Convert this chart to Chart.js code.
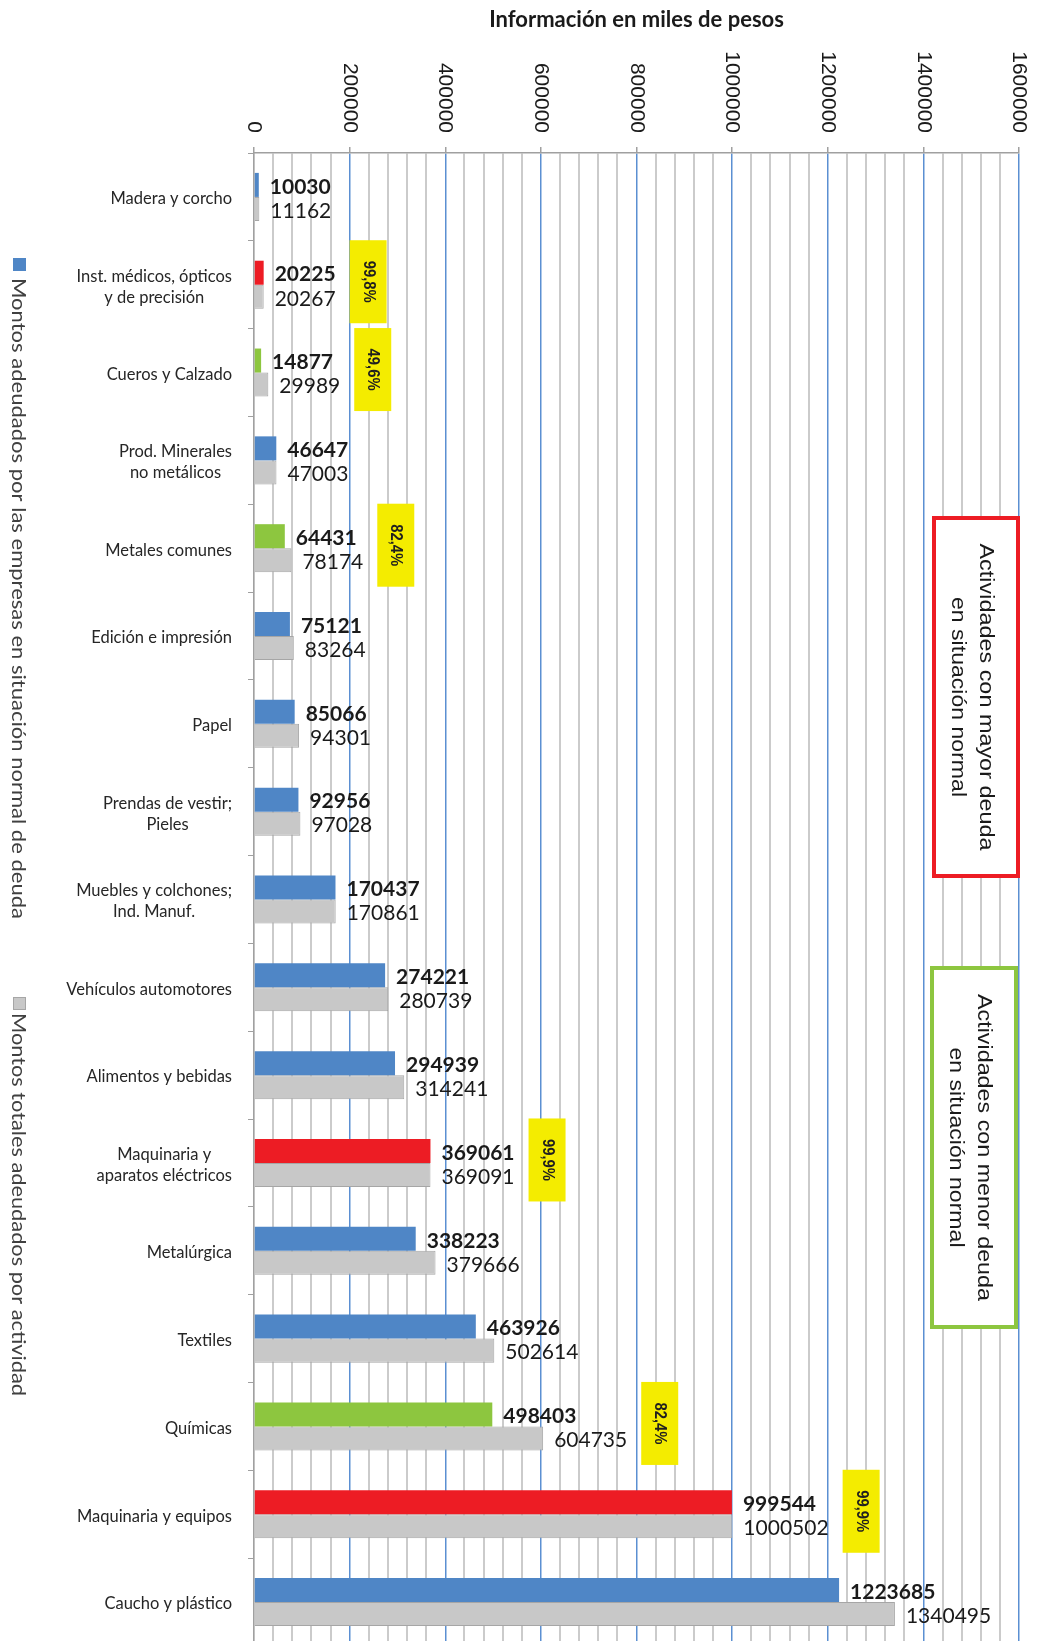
<!DOCTYPE html>
<html>
<head>
<meta charset="utf-8">
<script src="https://cdn.jsdelivr.net/npm/chart.js@4.4.0/dist/chart.umd.min.js"></script>
<style>
  html, body { margin: 0; padding: 0; overflow: hidden; background: #fff; }
</style>
</head>
<body>
<canvas id="myChart" width="1037" height="1660"></canvas>
<script>
const categories = [
  'Madera y corcho',
  ['Inst. médicos, ópticos', 'y de precisión'],
  'Cueros y Calzado',
  ['Prod. Minerales', 'no metálicos'],
  'Metales comunes',
  'Edición e impresión',
  'Papel',
  ['Prendas de vestir;', 'Pieles'],
  ['Muebles y colchones;', 'Ind. Manuf.'],
  'Vehículos automotores',
  'Alimentos y bebidas',
  ['Maquinaria y', 'aparatos eléctricos'],
  'Metalúrgica',
  'Textiles',
  'Químicas',
  'Maquinaria y equipos',
  'Caucho y plástico'
];
const normalDebt = [10030, 20225, 14877, 46647, 64431, 75121, 85066, 92956, 170437,
  274221, 294939, 369061, 338223, 463926, 498403, 999544, 1223685];
const totalDebt = [11162, 20267, 29989, 47003, 78174, 83264, 94301, 97028, 170861,
  280739, 314241, 369091, 379666, 502614, 604735, 1000502, 1340495];
// '' = normal, 'mayor' = mayor deuda en situación normal, 'menor' = menor deuda
const debtGroup = ['', 'mayor', 'menor', '', 'menor', '', '', '', '', '', '', 'mayor', '', '', 'menor', 'mayor', ''];
const shareLabels = ['', '99,8%', '49,6%', '', '82,4%', '', '', '', '', '', '', '99,9%', '', '', '82,4%', '99,9%', ''];
const xTickLabels = [0, 200000, 400000, 600000, 800000, 1000000, 1200000, 1400000, 1600000];
const seriesNames = [
  'Montos adeudados por las empresas en situación normal de deuda',
  'Montos totales adeudados por actividad'
];
const axisTitle = 'Información en miles de pesos';
const boxTexts = {
  mayor: ['Actividades con mayor deuda', 'en situación normal'],
  menor: ['Actividades con menor deuda', 'en situación normal']
};

const BLUE = '#4f86c6', RED = '#ed1c24', GREEN = '#8dc63f', GRAY = '#c8c8c8';
const groupColor = { '': BLUE, mayor: RED, menor: GREEN };

function rotText(ctx, text, x, y, font, color, align, targetW) {
  ctx.save();
  ctx.translate(x, y);
  ctx.rotate(Math.PI / 2);
  ctx.font = font;
  ctx.fillStyle = color;
  ctx.textAlign = align;
  ctx.textBaseline = 'middle';
  if (targetW) {
    const w = ctx.measureText(text).width;
    ctx.scale(targetW / w, 1);
  }
  ctx.fillText(text, 0, 0);
  ctx.restore();
}

const labelFont = '21px Lato';
const labelFontBold = 'bold 21px Lato';

const decorations = {
  id: 'decorations',
  afterDatasetsDraw(chart) {
    const ctx = chart.ctx;
    const xs = chart.scales.x, ys = chart.scales.y;

    // title
    ctx.save();
    ctx.font = 'bold 22px Lato';
    ctx.fillStyle = '#1a1a1a';
    ctx.textAlign = 'center';
    ctx.textBaseline = 'middle';
    ctx.fillText(axisTitle, (xs.left + xs.right) / 2, 20);
    ctx.restore();

    // x tick labels, read top to bottom
    xTickLabels.forEach(v => {
      rotText(ctx, String(v), xs.getPixelForValue(v), 133, '21px "Liberation Sans"', '#1a1a1a', 'right');
    });

    // category labels
    ctx.save();
    ctx.font = '16.5px Lato';
    ctx.fillStyle = '#262626';
    ctx.textBaseline = 'middle';
    categories.forEach((c, i) => {
      const y = ys.getPixelForValue(i) + 2;
      if (Array.isArray(c)) {
        const maxW = Math.max(...c.map(t => ctx.measureText(t).width));
        ctx.textAlign = 'center';
        c.forEach((t, k) => ctx.fillText(t, 232 - maxW / 2, y + (k - (c.length - 1) / 2) * 21));
      } else {
        ctx.textAlign = 'right';
        ctx.fillText(c, 232, y);
      }
    });
    ctx.restore();

    // value labels
    ctx.save();
    ctx.fillStyle = '#1a1a1a';
    ctx.textAlign = 'left';
    ctx.textBaseline = 'middle';
    const m0 = chart.getDatasetMeta(0), m1 = chart.getDatasetMeta(1);
    m0.data.forEach((bar, i) => {
      ctx.font = labelFontBold;
      ctx.fillText(String(normalDebt[i]), bar.x + 11, bar.y + 2);
    });
    m1.data.forEach((bar, i) => {
      ctx.font = labelFont;
      ctx.fillText(String(totalDebt[i]), bar.x + 11, bar.y + 2);
    });
    ctx.restore();

    // yellow share boxes
    shareLabels.forEach((p, i) => {
      if (!p) return;
      ctx.save();
      ctx.font = labelFont;
      const bar = m1.data[i];
      const bx = bar.x + 11 + ctx.measureText(String(totalDebt[i])).width + 14;
      const cy = ys.getPixelForValue(i) - 3;
      ctx.fillStyle = '#f4ec00';
      ctx.fillRect(bx, cy - 41.5, 37, 83);
      ctx.restore();
      rotText(ctx, p, bx + 18.5, cy, 'bold 16px "Liberation Sans"', '#1f1f1f', 'center', 42);
    });
  },
  afterDraw(chart) {
    const ctx = chart.ctx;
    // legend (rotated, on the left edge)
    ctx.save();
    ctx.fillStyle = BLUE;
    ctx.fillRect(13, 258, 13, 13);
    ctx.fillStyle = GRAY;
    ctx.fillRect(13, 997, 13, 13);
    ctx.strokeStyle = '#a6a6a6';
    ctx.lineWidth = 1;
    ctx.strokeRect(13.5, 997.5, 12, 12);
    ctx.restore();
    rotText(ctx, seriesNames[0], 18, 278, '20px Lato', '#404040', 'left', 641);
    rotText(ctx, seriesNames[1], 18, 1013, '20px Lato', '#404040', 'left', 383);

    // note boxes
    const boxes = [
      { key: 'mayor', color: RED, x: 934, y: 518, w: 84, h: 358 },
      { key: 'menor', color: GREEN, x: 932, y: 968, w: 84, h: 359 }
    ];
    boxes.forEach(b => {
      ctx.save();
      ctx.fillStyle = '#fff';
      ctx.fillRect(b.x, b.y, b.w, b.h);
      ctx.strokeStyle = b.color;
      ctx.lineWidth = 4;
      ctx.strokeRect(b.x, b.y, b.w, b.h);
      ctx.restore();
      const cy = b.y + b.h / 2;
      const lines = boxTexts[b.key];
      rotText(ctx, lines[0], b.x + 52, cy, '21px "Liberation Sans"', '#1a1a1a', 'center', 307);
      rotText(ctx, lines[1], b.x + 24, cy, '21px "Liberation Sans"', '#1a1a1a', 'center', 200);
    });
  }
};

const data = {
  labels: categories.map(c => Array.isArray(c) ? c.join(' ') : c),
  datasets: [{
    label: seriesNames[0],
    data: normalDebt,
    backgroundColor: debtGroup.map(g => groupColor[g]),
    borderWidth: 0,
    barPercentage: 1,
    categoryPercentage: 0.547
  }, {
    label: seriesNames[1],
    data: totalDebt,
    backgroundColor: GRAY,
    borderColor: '#a6a6a6',
    borderWidth: 1,
    barPercentage: 1,
    categoryPercentage: 0.547
  }]
};

const config = {
  type: 'bar',
  data: data,
  options: {
    indexAxis: 'y',
    responsive: false,
    animation: false,
    devicePixelRatio: 1,
    layout: { padding: { top: 0, left: 0, right: 18, bottom: 14 } },
    plugins: { legend: { display: false }, tooltip: { enabled: false }, title: { display: false } },
    scales: {
      x: {
        type: 'linear',
        position: 'top',
        min: 0,
        max: 1600000,
        afterFit: s => { s.height = 153; },
        afterBuildTicks: s => {
          const t = [];
          for (let v = 0; v <= 1600000; v += 40000) t.push({ value: v });
          s.ticks = t;
        },
        ticks: { display: false },
        grid: {
          color: c => (c.tick && c.tick.value % 200000 === 0 && c.tick.value !== 0) ? '#5b8fd2' : '#cbcbcb',
          lineWidth: c => (c.tick && c.tick.value % 200000 === 0) ? 1.5 : 2,
          tickColor: c => (c.tick && c.tick.value % 200000 === 0) ? '#a0a0a0' : 'rgba(0,0,0,0)',
          tickLength: 6,
          drawTicks: true
        },
        border: { color: '#a0a0a0', width: 1.5 }
      },
      y: {
        afterFit: s => { s.width = 254; },
        ticks: { display: false },
        grid: { drawOnChartArea: false, drawTicks: true, tickLength: 6, color: '#a0a0a0', offset: true },
        border: { color: '#a0a0a0', width: 1.5 }
      }
    }
  },
  plugins: [decorations]
};

const myChart = new Chart(document.getElementById('myChart'), config);
</script>
</body>
</html>
